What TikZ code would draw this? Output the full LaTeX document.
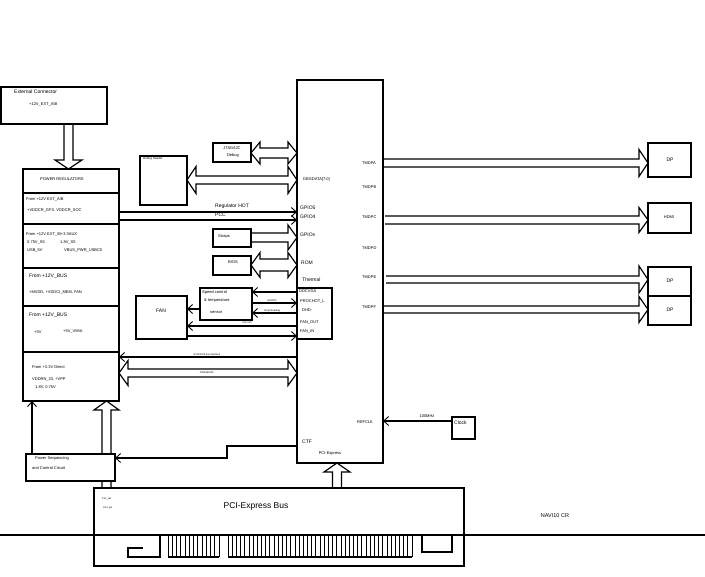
\documentclass[tikz,border=0pt]{standalone}
\usepackage{fontspec}
\setmainfont{Liberation Sans}
\usetikzlibrary{arrows.meta}
\newcommand{\fsz}[1]{\fontsize{#1}{#1}\selectfont}
\tikzset{
 box/.style={draw, line width=1.15pt, inner sep=0pt, outer sep=0pt, anchor=north west},
 ln/.style={line width=1.15pt},
 barb/.style={ln, -{Straight Barb[length=5pt,width=9pt,line width=0.9pt]}},
 hol/.style={ln, fill=white, line join=miter},
 t/.style={inner sep=0pt, anchor=west, font=\fsz{4}},
 tc/.style={t, anchor=center},
 tb/.style={t, font=\fsz{5}},
 tiny/.style={inner sep=0pt, anchor=center, font=\fsz{2.5}},
}
% right-pointing hollow arrow: x0, xtip, yc, half shaft, half head, head length
\newcommand{\HR}[6]{\draw[hol] (#1,{#3-#4}) -- ({#2-#6},{#3-#4}) -- ({#2-#6},{#3-#5}) -- (#2,#3) -- ({#2-#6},{#3+#5}) -- ({#2-#6},{#3+#4}) -- (#1,{#3+#4});}
% double hollow arrow
\newcommand{\HD}[6]{\draw[hol] (#1,#3) -- ({#1+#6},{#3-#5}) -- ({#1+#6},{#3-#4}) -- ({#2-#6},{#3-#4}) -- ({#2-#6},{#3-#5}) -- (#2,#3) -- ({#2-#6},{#3+#5}) -- ({#2-#6},{#3+#4}) -- ({#1+#6},{#3+#4}) -- ({#1+#6},{#3+#5}) -- cycle;}
% vertical hollow arrow: y0, ytip, xc, half shaft, half head, signed head length
\newcommand{\HV}[6]{\draw[hol] ({#3-#4},#1) -- ({#3-#4},{#2-(#6)}) -- ({#3-#5},{#2-(#6)}) -- (#3,#2) -- ({#3+#5},{#2-(#6)}) -- ({#3+#4},{#2-(#6)}) -- ({#3+#4},#1);}
% box node: name, x1, y1, x2, y2
\newcommand{\bx}[5]{\node[box, minimum width={#4-#2}, minimum height={#5-#3}] (#1) at (#2,#3) {};}
\begin{document}
\begin{tikzpicture}[x=1pt,y=-1pt]
\useasboundingbox (0,0) rectangle (705,577);

% ---------- hollow arrows ----------
\HV{124}{169}{68.5}{4.5}{13.5}{9}
\HD{251}{297}{153}{5}{11}{9}
\HD{187}{297}{180}{4}{13.5}{9}
\HR{251}{297}{237.5}{4.5}{12.5}{9}
\HD{251}{297}{265}{6}{12.5}{9}
\HD{119}{297}{373}{4}{12.5}{9}
\HR{383}{648}{163}{4}{13.5}{9}
\HR{385}{648}{220}{4}{12.5}{9}
\HR{386}{648}{279.5}{3.5}{13.5}{9}
\HR{383}{648}{309.5}{3.5}{13}{9}
\HV{488}{463}{337}{4.5}{13}{-9}
\HV{488}{401}{106.5}{4.5}{12.5}{-9}

% ---------- boxes ----------
\bx{ext}{1}{87}{107}{124}
\bx{pwr}{23}{169}{119}{401}
\foreach \yy in {193,224,268,306,352} \draw[ln] (pwr.west |- 0,\yy) -- (pwr.east |- 0,\yy);
\bx{dbg}{140}{156}{187}{205}
\bx{jtag}{213}{143}{251}{162}
\bx{straps}{213}{229}{251}{247}
\bx{bios}{213}{256}{251}{275}
\bx{spd}{200}{288}{252}{320}
\bx{fan}{136}{296}{187}{339}
\bx{chip}{297}{80}{383}{463}
\bx{therm}{297}{288}{332}{339}
\bx{clk}{452}{417}{475}{439}
\bx{dp1}{648}{143}{691}{177}
\bx{hdmi}{648}{203}{691}{233}
\bx{dp3}{648}{267}{691}{296}
\bx{dp4}{648}{296}{691}{325}
\node[box, fill=white, minimum width=89, minimum height=27] (pseq) at (26,454) {};
\bx{pci}{94}{488}{464}{566}

% ---------- thin connectors ----------
\draw[barb] (pwr.east |- 0,212) -- (chip.west |- 0,212);
\draw[barb] (pwr.east |- 0,220) -- (chip.west |- 0,220);
\draw[barb] (chip.west |- 0,292) -- (spd.east |- 0,292);
\draw[barb] (spd.east |- 0,303) -- (chip.west |- 0,303);
\draw[barb] (chip.west |- 0,313) -- (spd.east |- 0,313);
\draw[barb] (spd.west |- 0,309) -- (fan.east |- 0,309);
\draw[barb] (chip.west |- 0,326) -- (fan.east |- 0,326);
\draw[barb] (fan.east |- 0,336) -- (chip.west |- 0,336);
\draw[barb] (chip.west |- 0,357) -- (pwr.east |- 0,357);
\coordinate (tc1) at (227,446);
\coordinate (tc2) at (227,458);
\draw[barb] (chip.west |- tc1) -- (tc1) -- (tc2) -- (pseq.east |- tc2);
\draw[barb] (clk.west |- 0,421) -- (chip.east |- 0,421);
\draw[barb] (pseq.north -| 32,0) -- (pwr.south -| 32,0);

% ---------- PCI connector details ----------
\coordinate (lineL) at (0,535);
\coordinate (lineR) at (705,535);
\draw[ln] (lineL) -- (lineR);
\draw[ln] (143,548) -- (128,548) -- (128,557) -- (160,557) -- (160,535);
\draw[ln] (168,557) -- (219,557);
\foreach \i in {0,...,12} \draw[ln, line width=0.75pt] ({168+\i*51/12},535) -- ({168+\i*51/12},557);
\draw[ln] (228,557) -- (412,557);
\foreach \i in {0,...,44} \draw[ln, line width=0.75pt] ({228+\i*184/44},535) -- ({228+\i*184/44},557);
\draw[ln] (422,535) -- (422,552) -- (452,552) -- (452,535);

% ---------- texts ----------
\node[tb] (x1) at (14,92) {External Connector};
\node[t] (x2) at (29,104) {+12V\_EXT\_A\textbackslash B};
\node[t] (p1) at (40,179) {POWER REGULATORS};
\node[t] (p2) at (26,199) {From +12V EXT\_A\textbackslash B};
\node[t] (p3) at (27,211) {+VDDCR\_GFX, VDDCR\_SOC};
\node[t] (p4) at (26,234) {From +12V EXT\_\textbackslash B+3.3AUX};
\node[t] (p5) at (27,243) {0.75V\_S5};
\node[t] (p6) at (60,243) {1.8V\_S5};
\node[t] (p7) at (27,251) {USB\_5V};
\node[t] (p8) at (64,251) {VBUS\_PWR\_USBC0};
\node[tb] (p9) at (29,276) {From +12V\_BUS};
\node[t] (p10) at (29,293) {+MVDD, +VDDCI\_MEM, FAN};
\node[tb] (p11) at (29,315) {From +12V\_BUS};
\node[t] (p12) at (34,332) {+5V};
\node[t] (p13) at (63,332) {+5V\_VMIA};
\node[t] (p14) at (32,367) {From +3.3V Direct};
\node[t] (p15) at (32,380) {VDDRN\_33, +VPP};
\node[t] (p16) at (35,387) {1.8V, 0.75V};
\node[t, font=\fsz{3}] (d1) at (143,159) {Debug Header};
\node[tc] (j1) at (232,148) {JTAG/I2C};
\node[tc] (j2) at (233,155) {Debug};
\node[tb] (r1) at (215,206) {Regulator HOT};
\node[tb] (r2) at (215,215) {PCC};
\node[tc] (s1) at (224,237) {Straps};
\node[tc] (b1) at (233,262) {BIOS};
\node[t] (sp1) at (202,292) {Speed control};
\node[t] (sp2) at (204,301) {\& temperature};
\node[t] (sp3) at (210,312) {sensor};
\node[tc, font=\fsz{5}] (f1) at (161,311) {FAN};
\node[tiny] (l1) at (272,300.5) {ALERT\#};
\node[tiny] (l2) at (272,310.5) {Temp Reading};
\node[tiny] (l3) at (247,323) {Fan Ctrl};
\node[tiny] (l4) at (207,354.5) {SVI2/SVI3 bus interface};
\node[tiny] (l5) at (207,373) {PWRGD/I2C};
\node[t] (c1) at (362,163) {TMDPA};
\node[t] (c2) at (362,187) {TMDPB};
\node[t] (c3) at (362,217) {TMDPC};
\node[t] (c4) at (362,248) {TMDPD};
\node[t] (c5) at (362,277) {TMDPE};
\node[t] (c6) at (362,307) {TMDPF};
\node[t] (c7) at (303,179) {DBGDATA[7:0]};
\node[tb] (c8) at (300,208) {GPIO5};
\node[tb] (c9) at (300,217) {GPIO4};
\node[tb] (c10) at (300,235) {GPIOs};
\node[tb] (c11) at (301,263) {ROM};
\node[tb] (c12) at (302,280) {Thermal};
\node[t] (c13) at (299,291) {DDCVGA};
\node[t] (c14) at (300,302) {PROCHOT\_L};
\node[t] (c15) at (302,310) {DHD-};
\node[t] (c16) at (300,323) {FAN\_OUT};
\node[t] (c17) at (300,332) {FAN\_IN};
\node[tc] (c18) at (365,422) {REFCLK};
\node[tb] (c19) at (302,442) {CTF};
\node[tc] (c20) at (330,454) {PCI-Express};
\node[tc] (k1) at (427,416) {100MHz};
\node[tb] (k2) at (454,423) {Clock};
\node[tc, font=\fsz{5}] (o1) at (670,160) {DP};
\node[tc] (o2) at (669,217) {HDMI};
\node[tc, font=\fsz{5}] (o3) at (670,281) {DP};
\node[tc, font=\fsz{5}] (o4) at (670,310) {DP};
\node[tc] (q1) at (52,458) {Power Sequencing};
\node[t] (q2) at (32,468) {and Control Circuit};
\node[tc, font=\fsz{8.5}] (e1) at (256,506) {PCI-Express Bus};
\node[t, font=\fsz{2.5}] (e2) at (102,499) {12V\_pin};
\node[t, font=\fsz{2.5}] (e3) at (103,508) {3V3\_pin};
\node[tc, font=\fsz{5.5}] (e4) at (555,516) {NAVI10 CR};
\end{tikzpicture}
\end{document}
